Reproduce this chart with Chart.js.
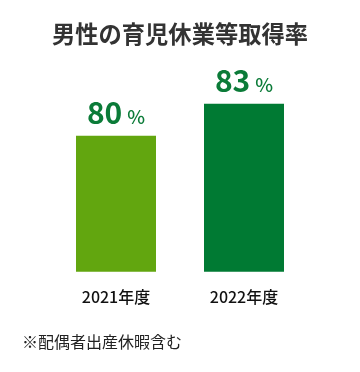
<!DOCTYPE html>
<html>
<head>
<meta charset="utf-8">
<script src="https://cdn.jsdelivr.net/npm/chart.js@4.4.0/dist/chart.umd.min.js"></script>
<style>
  html, body { margin: 0; padding: 0; background: #fff; }
  #wrap { width: 360px; height: 372px; position: relative; }
</style>
</head>
<body>
<div id="wrap"><canvas id="chart"></canvas></div>
<script>
const categories = ['2021年度', '2022年度'];
const rates = [80, 83];
const barColors = ['#62a60f', '#007a33'];
const titleText = '男性の育児休業等取得率';
const noteText = '※配偶者出産休暇含む';

const FONT = "'Noto Sans CJK JP', 'Noto Sans', sans-serif";

// big number + small % above each bar
const valueLabels = {
  id: 'valueLabels',
  afterDatasetsDraw(chart) {
    const ctx = chart.ctx;
    const meta = chart.getDatasetMeta(0);
    ctx.save();
    ctx.fillStyle = '#0b7b38';
    ctx.textBaseline = 'alphabetic';
    ctx.textAlign = 'left';
    meta.data.forEach((bar, i) => {
      const num = String(rates[i]);
      ctx.font = 'bold 30px ' + FONT;
      const w1 = ctx.measureText(num).width;
      ctx.font = '500 19px ' + FONT;
      const w2 = ctx.measureText('%').width;
      const gap = 5;
      const x0 = bar.x - (w1 + gap + w2) / 2;
      const y = bar.y - 12;
      ctx.font = 'bold 30px ' + FONT;
      ctx.fillText(num, x0, y);
      ctx.font = '500 19px ' + FONT;
      ctx.fillText('%', x0 + w1 + gap, y);
    });
    ctx.restore();
  }
};

const footnote = {
  id: 'footnote',
  afterDraw(chart) {
    const ctx = chart.ctx;
    ctx.save();
    ctx.font = '16px ' + FONT;
    ctx.fillStyle = '#222';
    ctx.textBaseline = 'middle';
    ctx.textAlign = 'left';
    ctx.fillText(noteText, 22, 342);
    ctx.restore();
  }
};

new Chart(document.getElementById('chart'), {
  type: 'bar',
  data: {
    labels: categories,
    datasets: [{
      data: rates,
      backgroundColor: barColors,
      barPercentage: 0.625,
      categoryPercentage: 1
    }]
  },
  options: {
    responsive: true,
    maintainAspectRatio: false,
    animation: false,
    layout: { padding: { left: 52, right: 52, top: 0, bottom: 49 } },
    plugins: {
      legend: { display: false },
      tooltip: { enabled: false },
      title: {
        display: true,
        text: titleText,
        color: '#333',
        font: { family: FONT, size: 24, weight: 'bold' },
        padding: { top: 19, bottom: 12 }
      }
    },
    scales: {
      x: {
        grid: { display: false, drawTicks: false },
        border: { display: false },
        ticks: { color: '#111', padding: 16, font: { family: FONT, size: 16, weight: '500' } }
      },
      y: {
        display: false,
        min: 67.25,
        max: 87.125
      }
    }
  },
  plugins: [valueLabels, footnote]
});
</script>
</body>
</html>
